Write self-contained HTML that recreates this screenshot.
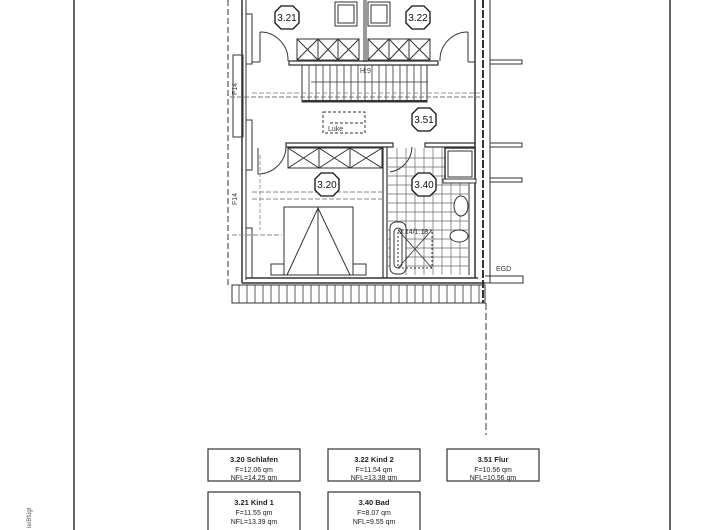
<!DOCTYPE html>
<html><head><meta charset="utf-8"><style>
html,body{margin:0;padding:0;background:#fff;}
svg{display:block;font-family:"Liberation Sans",sans-serif;}
</style></head><body>
<svg width="720" height="530" viewBox="0 0 720 530" xmlns="http://www.w3.org/2000/svg">
<rect width="720" height="530" fill="#fff"/>
<g stroke="#333" fill="none" stroke-width="1">
<!-- page frame -->
<line x1="74" y1="0" x2="74" y2="530" stroke-width="1.5"/>
<line x1="670" y1="0" x2="670" y2="530" stroke-width="1.5"/>
<!-- left dashed and walls -->
<line x1="228" y1="0" x2="228" y2="285" stroke-dasharray="6,3"/>
<line x1="242" y1="0" x2="242" y2="283" stroke-width="1.5"/>
<line x1="246" y1="0" x2="246" y2="280"/>
<rect x="246" y="14" width="6" height="50"/>
<rect x="246" y="120" width="6" height="50"/>
<rect x="246" y="228" width="6" height="50"/>
<rect x="233" y="55" width="10" height="82"/>
<!-- right walls -->
<line x1="475" y1="0" x2="475" y2="278" stroke-width="1.5"/>
<line x1="483" y1="0" x2="483" y2="303" stroke-width="2" stroke-dasharray="8,2"/>
<line x1="490" y1="0" x2="490" y2="283"/>
<line x1="486" y1="303" x2="486" y2="435" stroke-dasharray="7,3"/>
<g stroke-width="1">
<path d="M490 60 H522 V64 H490"/>
<path d="M490 143 H522 V147 H490"/>
<path d="M490 178 H522 V182 H490"/>
<path d="M485 276 H523 V283 H485"/>
</g>
<text x="496" y="271" font-size="7" fill="#333" stroke="none">EGD</text>
<!-- bottom wall & hatch -->
<line x1="246" y1="278" x2="478" y2="278" stroke-width="1.5"/>
<line x1="242" y1="283" x2="485" y2="283" stroke-width="1.5"/>
<rect x="232" y="285" width="253" height="18"/>
<g stroke-width="0.8">
<line x1="239" y1="285" x2="239" y2="303"/><line x1="247" y1="285" x2="247" y2="303"/><line x1="255" y1="285" x2="255" y2="303"/><line x1="263" y1="285" x2="263" y2="303"/><line x1="271" y1="285" x2="271" y2="303"/><line x1="279" y1="285" x2="279" y2="303"/><line x1="287" y1="285" x2="287" y2="303"/><line x1="295" y1="285" x2="295" y2="303"/><line x1="303" y1="285" x2="303" y2="303"/><line x1="311" y1="285" x2="311" y2="303"/><line x1="319" y1="285" x2="319" y2="303"/><line x1="327" y1="285" x2="327" y2="303"/><line x1="335" y1="285" x2="335" y2="303"/><line x1="343" y1="285" x2="343" y2="303"/><line x1="351" y1="285" x2="351" y2="303"/><line x1="359" y1="285" x2="359" y2="303"/><line x1="367" y1="285" x2="367" y2="303"/><line x1="375" y1="285" x2="375" y2="303"/><line x1="383" y1="285" x2="383" y2="303"/><line x1="391" y1="285" x2="391" y2="303"/><line x1="399" y1="285" x2="399" y2="303"/><line x1="407" y1="285" x2="407" y2="303"/><line x1="415" y1="285" x2="415" y2="303"/><line x1="423" y1="285" x2="423" y2="303"/><line x1="431" y1="285" x2="431" y2="303"/><line x1="439" y1="285" x2="439" y2="303"/><line x1="447" y1="285" x2="447" y2="303"/><line x1="455" y1="285" x2="455" y2="303"/><line x1="463" y1="285" x2="463" y2="303"/><line x1="471" y1="285" x2="471" y2="303"/><line x1="479" y1="285" x2="479" y2="303"/>
</g>
<!-- top rooms -->
<line x1="364" y1="0" x2="364" y2="62"/><line x1="366" y1="0" x2="366" y2="62"/>
<rect x="335" y="2" width="22" height="24"/><rect x="338" y="5" width="16" height="18"/>
<rect x="368" y="2" width="22" height="24"/><rect x="371" y="5" width="16" height="18"/>
<rect x="297" y="39" width="62" height="21"/>
<path d="M297 39 L318 60 M318 39 L297 60 M318 39 L338 60 M338 39 L318 60 M338 39 L359 60 M359 39 L338 60"/>
<line x1="318" y1="39" x2="318" y2="60"/><line x1="338" y1="39" x2="338" y2="60"/>
<rect x="368" y="39" width="62" height="21"/>
<path d="M368 39 L389 60 M389 39 L368 60 M389 39 L409 60 M409 39 L389 60 M409 39 L430 60 M430 39 L409 60"/>
<line x1="389" y1="39" x2="389" y2="60"/><line x1="409" y1="39" x2="409" y2="60"/>
<path d="M289 61 H438 V65 H289 Z" stroke-width="1.2"/>
<path d="M252 62 H260 M260 32 V62" /><path d="M260 32 A28 28 0 0 1 288 61"/>
<path d="M468 62 H475 M468 32 V62"/><path d="M468 32 A28 28 0 0 0 440 61"/>
<!-- stairs -->
<rect x="302" y="65" width="125" height="37"/>
<line x1="302" y1="101" x2="427" y2="101" stroke-width="2"/>
<g stroke-width="0.8">
<line x1="309" y1="65" x2="309" y2="101"/><line x1="316" y1="65" x2="316" y2="101"/><line x1="323" y1="65" x2="323" y2="101"/><line x1="330" y1="65" x2="330" y2="101"/><line x1="337" y1="65" x2="337" y2="101"/><line x1="344" y1="65" x2="344" y2="101"/><line x1="351" y1="65" x2="351" y2="101"/><line x1="358" y1="65" x2="358" y2="101"/><line x1="365" y1="65" x2="365" y2="101"/><line x1="372" y1="65" x2="372" y2="101"/><line x1="379" y1="65" x2="379" y2="101"/><line x1="386" y1="65" x2="386" y2="101"/><line x1="393" y1="65" x2="393" y2="101"/><line x1="400" y1="65" x2="400" y2="101"/><line x1="407" y1="65" x2="407" y2="101"/><line x1="414" y1="65" x2="414" y2="101"/><line x1="421" y1="65" x2="421" y2="101"/>
<line x1="311" y1="82" x2="428" y2="82"/>
</g>
<text x="360" y="73" font-size="7" fill="#444" stroke="none">H:9</text>
<line x1="230" y1="97" x2="480" y2="97" stroke-dasharray="5,2" stroke="#777"/>
<line x1="252" y1="93" x2="480" y2="93" stroke-dasharray="5,2" stroke="#999"/>
<!-- Luke -->
<rect x="323" y="112" width="42" height="21" stroke-dasharray="3,2"/>
<line x1="330" y1="123" x2="363" y2="123" stroke-dasharray="3,2"/>
<!-- bedroom 3.20 -->
<path d="M286 143 H393 V147 H286 Z" stroke-width="1.2"/>
<path d="M425 143 H475 V147 H425 Z" stroke-width="1.2"/>
<rect x="288" y="148" width="94" height="20"/>
<path d="M288 148 L319 168 M319 148 L288 168 M319 148 L350 168 M350 148 L319 168 M350 148 L382 168 M382 148 L350 168"/>
<line x1="319" y1="148" x2="319" y2="168"/><line x1="350" y1="148" x2="350" y2="168"/>
<path d="M258 148 V174 A28 28 0 0 0 286 147"/>
<line x1="383" y1="147" x2="383" y2="278" stroke-width="1.2"/><line x1="387" y1="147" x2="387" y2="278" stroke-width="1.2"/>
<line x1="252" y1="192" x2="383" y2="192" stroke-dasharray="5,2" stroke="#888"/>
<line x1="252" y1="199" x2="383" y2="199" stroke-dasharray="5,2" stroke="#888"/>
<line x1="232" y1="235" x2="282" y2="235" stroke-dasharray="5,2" stroke="#888"/>
<rect x="284" y="207" width="69" height="68"/>
<line x1="318" y1="207" x2="318" y2="275"/>
<path d="M287 275 L318 208 L350 275"/>
<rect x="271" y="264" width="13" height="11"/><rect x="353" y="264" width="13" height="11"/>
<!-- bath -->
<path d="M412 147 A26 26 0 0 1 390 172"/>
<g stroke="#666" stroke-width="0.7">
<line x1="397" y1="148" x2="397" y2="275"/><line x1="406" y1="148" x2="406" y2="275"/><line x1="415" y1="148" x2="415" y2="275"/><line x1="424" y1="148" x2="424" y2="275"/><line x1="433" y1="148" x2="433" y2="275"/><line x1="442" y1="148" x2="442" y2="275"/><line x1="451" y1="182" x2="451" y2="275"/><line x1="460" y1="182" x2="460" y2="275"/>
<line x1="388" y1="158" x2="445" y2="158"/><line x1="388" y1="167" x2="445" y2="167"/><line x1="388" y1="176" x2="445" y2="176"/><line x1="388" y1="185" x2="468" y2="185"/><line x1="388" y1="194" x2="468" y2="194"/><line x1="388" y1="203" x2="468" y2="203"/><line x1="388" y1="212" x2="468" y2="212"/><line x1="388" y1="221" x2="468" y2="221"/><line x1="388" y1="230" x2="468" y2="230"/><line x1="388" y1="239" x2="468" y2="239"/><line x1="388" y1="248" x2="468" y2="248"/><line x1="388" y1="257" x2="468" y2="257"/><line x1="388" y1="266" x2="468" y2="266"/>
</g>
<line x1="469" y1="182" x2="469" y2="275"/>
<rect x="445" y="148" width="30" height="34" fill="#fff" stroke-width="1.5"/>
<rect x="448" y="151" width="24" height="26" fill="#fff"/>
<rect x="443" y="179" width="33" height="4" fill="#fff"/>
<ellipse cx="461" cy="206" rx="7" ry="10" fill="#fff"/>
<ellipse cx="459" cy="236" rx="9" ry="6" fill="#fff"/>
<rect x="390" y="222" width="16" height="52" rx="6" fill="#fff"/>
<rect x="394" y="228" width="8" height="40" rx="4"/>
<rect x="398" y="230" width="34" height="38" stroke-dasharray="2,2"/>
<path d="M398 230 L432 268 M432 230 L398 268" stroke-width="0.8"/>
<text x="399" y="234" font-size="7" fill="#333" stroke="none">1.14/1.18</text>
<line x1="260" y1="155" x2="260" y2="230" stroke-dasharray="4,2" stroke="#999"/>
<!-- F14 text -->
</g>
<text x="0" y="0" font-size="7" fill="#444" transform="translate(237,95) rotate(-90)">F14</text>
<text x="0" y="0" font-size="7" fill="#444" transform="translate(237,205) rotate(-90)">F14</text>
<text x="328" y="131" font-size="7" fill="#333">Luke</text>
<!-- room tags -->
<g font-size="10" text-anchor="middle" fill="#111">
<g stroke="#111" stroke-width="1.3" fill="#fff">
<polygon points="281,6 293,6 299,12 299,23 293,29 281,29 275,23 275,12"/>
<polygon points="412,6 424,6 430,12 430,23 424,29 412,29 406,23 406,12"/>
<polygon points="418,108 430,108 436,114 436,125 430,131 418,131 412,125 412,114"/>
<polygon points="321,173 333,173 339,179 339,190 333,196 321,196 315,190 315,179"/>
<polygon points="418,173 430,173 436,179 436,190 430,196 418,196 412,190 412,179"/>
</g>
<text x="287" y="21">3.21</text><text x="418" y="21">3.22</text><text x="424" y="123">3.51</text><text x="327" y="188">3.20</text><text x="424" y="188">3.40</text>
</g>
<!-- tables -->
<g stroke="#333" fill="none" stroke-width="1.2">
<rect x="208" y="449" width="92" height="32"/>
<rect x="328" y="449" width="92" height="32"/>
<rect x="447" y="449" width="92" height="32"/>
<rect x="208" y="492" width="92" height="40"/>
<rect x="328" y="492" width="92" height="40"/>
</g>
<g font-size="7" text-anchor="middle" fill="#222">
<text x="254" y="462" font-weight="bold" font-size="7.5">3.20 Schlafen</text><text x="254" y="472">F=12.06 qm</text><text x="254" y="480">NFL=14.25 qm</text>
<text x="374" y="462" font-weight="bold" font-size="7.5">3.22 Kind 2</text><text x="374" y="472">F=11.54 qm</text><text x="374" y="480">NFL=13.38 qm</text>
<text x="493" y="462" font-weight="bold" font-size="7.5">3.51 Flur</text><text x="493" y="472">F=10.56 qm</text><text x="493" y="480">NFL=10.56 qm</text>
<text x="254" y="505" font-weight="bold" font-size="7.5">3.21 Kind 1</text><text x="254" y="515">F=11.55 qm</text><text x="254" y="524">NFL=13.39 qm</text>
<text x="374" y="505" font-weight="bold" font-size="7.5">3.40 Bad</text><text x="374" y="515">F=8.07 qm</text><text x="374" y="524">NFL=9.55 qm</text>
</g>
<text x="0" y="0" font-size="6" fill="#555" transform="translate(31,528) rotate(-90)">ie/Bfügt</text>
</svg>
</body></html>
